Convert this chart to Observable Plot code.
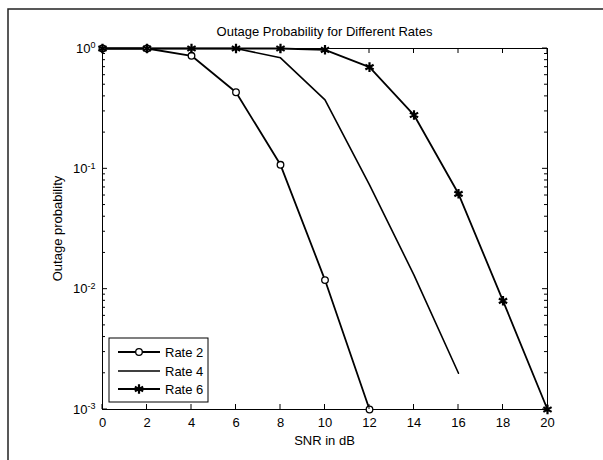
<!DOCTYPE html>
<html><head><meta charset="utf-8">
<script src="https://cdn.jsdelivr.net/npm/d3@7"></script>
<script src="https://cdn.jsdelivr.net/npm/@observablehq/plot@0.6"></script>
<style>body{margin:0;background:#fff}</style>
</head><body><div id="chart"></div>
<script>
// ---- data ----
const snrRate2 = [0, 2, 4, 6, 8, 10, 12];
const rate2 = [1, 1, 0.87, 0.433, 0.108, 0.0119, 0.001];
const snrRate4 = [0, 2, 4, 6, 8, 10, 12, 14, 16];
const rate4 = [1, 1, 1, 1, 0.837, 0.374, 0.0736, 0.0131, 0.0020];
const snrRate6 = [0, 2, 4, 6, 8, 10, 12, 14, 16, 18, 20];
const rate6 = [1, 1, 1, 1, 1, 0.975, 0.70, 0.28, 0.062, 0.008, 0.001];
const seriesNames = ["Rate 2", "Rate 4", "Rate 6"];
const xTicks = [0, 2, 4, 6, 8, 10, 12, 14, 16, 18, 20];
const yTicks = [1e-3, 1e-2, 1e-1, 1];
const titleText = "Outage Probability for Different Rates";
const xLabel = "SNR in dB";
const yLabel = "Outage probability";

const rows = (name, xs, ys) => xs.map((x, i) => ({series: name, snr: x, p: ys[i]}));
const d2 = rows(seriesNames[0], snrRate2, rate2);
const d4 = rows(seriesNames[1], snrRate4, rate4);
const d6 = rows(seriesNames[2], snrRate6, rate6);

const FONT = "'Liberation Sans', Arial, Helvetica, sans-serif";

const plot = Plot.plot({
  width: 603, height: 460,
  marginLeft: 102, marginRight: 56, marginTop: 48, marginBottom: 51,
  style: {fontFamily: FONT, fontSize: "13px", background: "#fff", color: "#000", overflow: "visible"},
  x: {domain: [0, 20], label: null},
  y: {type: "log", domain: [1e-3, 1], label: null},
  marks: [
    Plot.frame({stroke: "#000", strokeWidth: 1}),
    Plot.axisX({ticks: xTicks, tickSize: 0, tickPadding: 8, tickFormat: d => String(d), label: null}),
    Plot.axisY({ticks: yTicks, tickSize: 0, tickPadding: 7, tickFormat: d => String(Math.round(Math.log10(d))), label: null}),
    Plot.line(d4, {x: "snr", y: "p", stroke: "#000", strokeWidth: 1.6}),
    Plot.line(d2, {x: "snr", y: "p", stroke: "#000", strokeWidth: 1.8}),
    Plot.line(d6, {x: "snr", y: "p", stroke: "#000", strokeWidth: 1.8}),
    Plot.dot(d2, {x: "snr", y: "p", r: 3.3, stroke: "#000", fill: "#fff", strokeWidth: 1.3}),
    Plot.dot(d6, {x: "snr", y: "p", symbol: "asterisk", r: 4.5, stroke: "#000", strokeWidth: 2.2})
  ]
});

const svg = d3.select(plot);
const sx = plot.scale("x"), sy = plot.scale("y");
const L = 102, R = 547, T = 48, B = 409;

// superscript exponents on y tick labels
svg.selectAll('[aria-label="y-axis tick label"] text').each(function() {
  const t = d3.select(this);
  const e = t.text();
  t.text("10");
  t.append("tspan").attr("dy", "-0.5em").attr("font-size", "9px").text(e);
});

// inward ticks
const tk = svg.append("g").attr("stroke", "#000").attr("stroke-width", 1);
xTicks.forEach(v => {
  const x = sx.apply(v);
  tk.append("line").attr("x1", x).attr("x2", x).attr("y1", B).attr("y2", B - 5);
  tk.append("line").attr("x1", x).attr("x2", x).attr("y1", T).attr("y2", T + 5);
});
yTicks.forEach(v => {
  const y = sy.apply(v);
  tk.append("line").attr("x1", L).attr("x2", L + 5).attr("y1", y).attr("y2", y);
  tk.append("line").attr("x1", R).attr("x2", R - 5).attr("y1", y).attr("y2", y);
});
[-3, -2, -1].forEach(d => {
  for (let k = 2; k <= 9; k++) {
    const y = sy.apply(k * Math.pow(10, d));
    tk.append("line").attr("x1", L).attr("x2", L + 3).attr("y1", y).attr("y2", y);
    tk.append("line").attr("x1", R).attr("x2", R - 3).attr("y1", y).attr("y2", y);
  }
});

// texts
const txt = svg.append("g").attr("font-family", FONT).attr("font-size", 13).attr("fill", "#000");
txt.append("text").attr("x", (L + R) / 2).attr("y", 36).attr("text-anchor", "middle").text(titleText);
txt.append("text").attr("x", (L + R) / 2).attr("y", 445).attr("text-anchor", "middle").text(xLabel);
txt.append("text").attr("transform", `translate(62,${(T + B) / 2}) rotate(-90)`).attr("text-anchor", "middle").text(yLabel);

// legend
const lg = svg.append("g").attr("text-anchor", "start");
lg.append("rect").attr("x", 109).attr("y", 338).attr("width", 99).attr("height", 64)
  .attr("fill", "#fff").attr("stroke", "#000").attr("stroke-width", 1);
const ly = [352, 371, 389];
ly.forEach((y, i) => {
  lg.append("line").attr("x1", 118).attr("x2", 160).attr("y1", y).attr("y2", y)
    .attr("stroke", "#000").attr("stroke-width", i === 1 ? 1.6 : 1.8);
  lg.append("text").attr("x", 165).attr("y", y).attr("dy", "0.35em").attr("text-anchor", "start")
    .attr("font-family", FONT).attr("font-size", 13).text(seriesNames[i]);
});
lg.append("circle").attr("cx", 139).attr("cy", ly[0]).attr("r", 3.3)
  .attr("fill", "#fff").attr("stroke", "#000").attr("stroke-width", 1.3);
lg.append("path").attr("transform", `translate(139,${ly[2]})`)
  .attr("d", d3.symbol(d3.symbolAsterisk, Math.PI * 4.5 * 4.5)())
  .attr("stroke", "#000").attr("stroke-width", 2.2).attr("fill", "none");

// outer figure border (left and top)
const fb = svg.append("g").attr("stroke", "#222").attr("stroke-width", 1.5).attr("fill", "none");
fb.append("path").attr("d", "M8,460V9H603");

document.getElementById("chart").appendChild(plot);
</script>
</body></html>
